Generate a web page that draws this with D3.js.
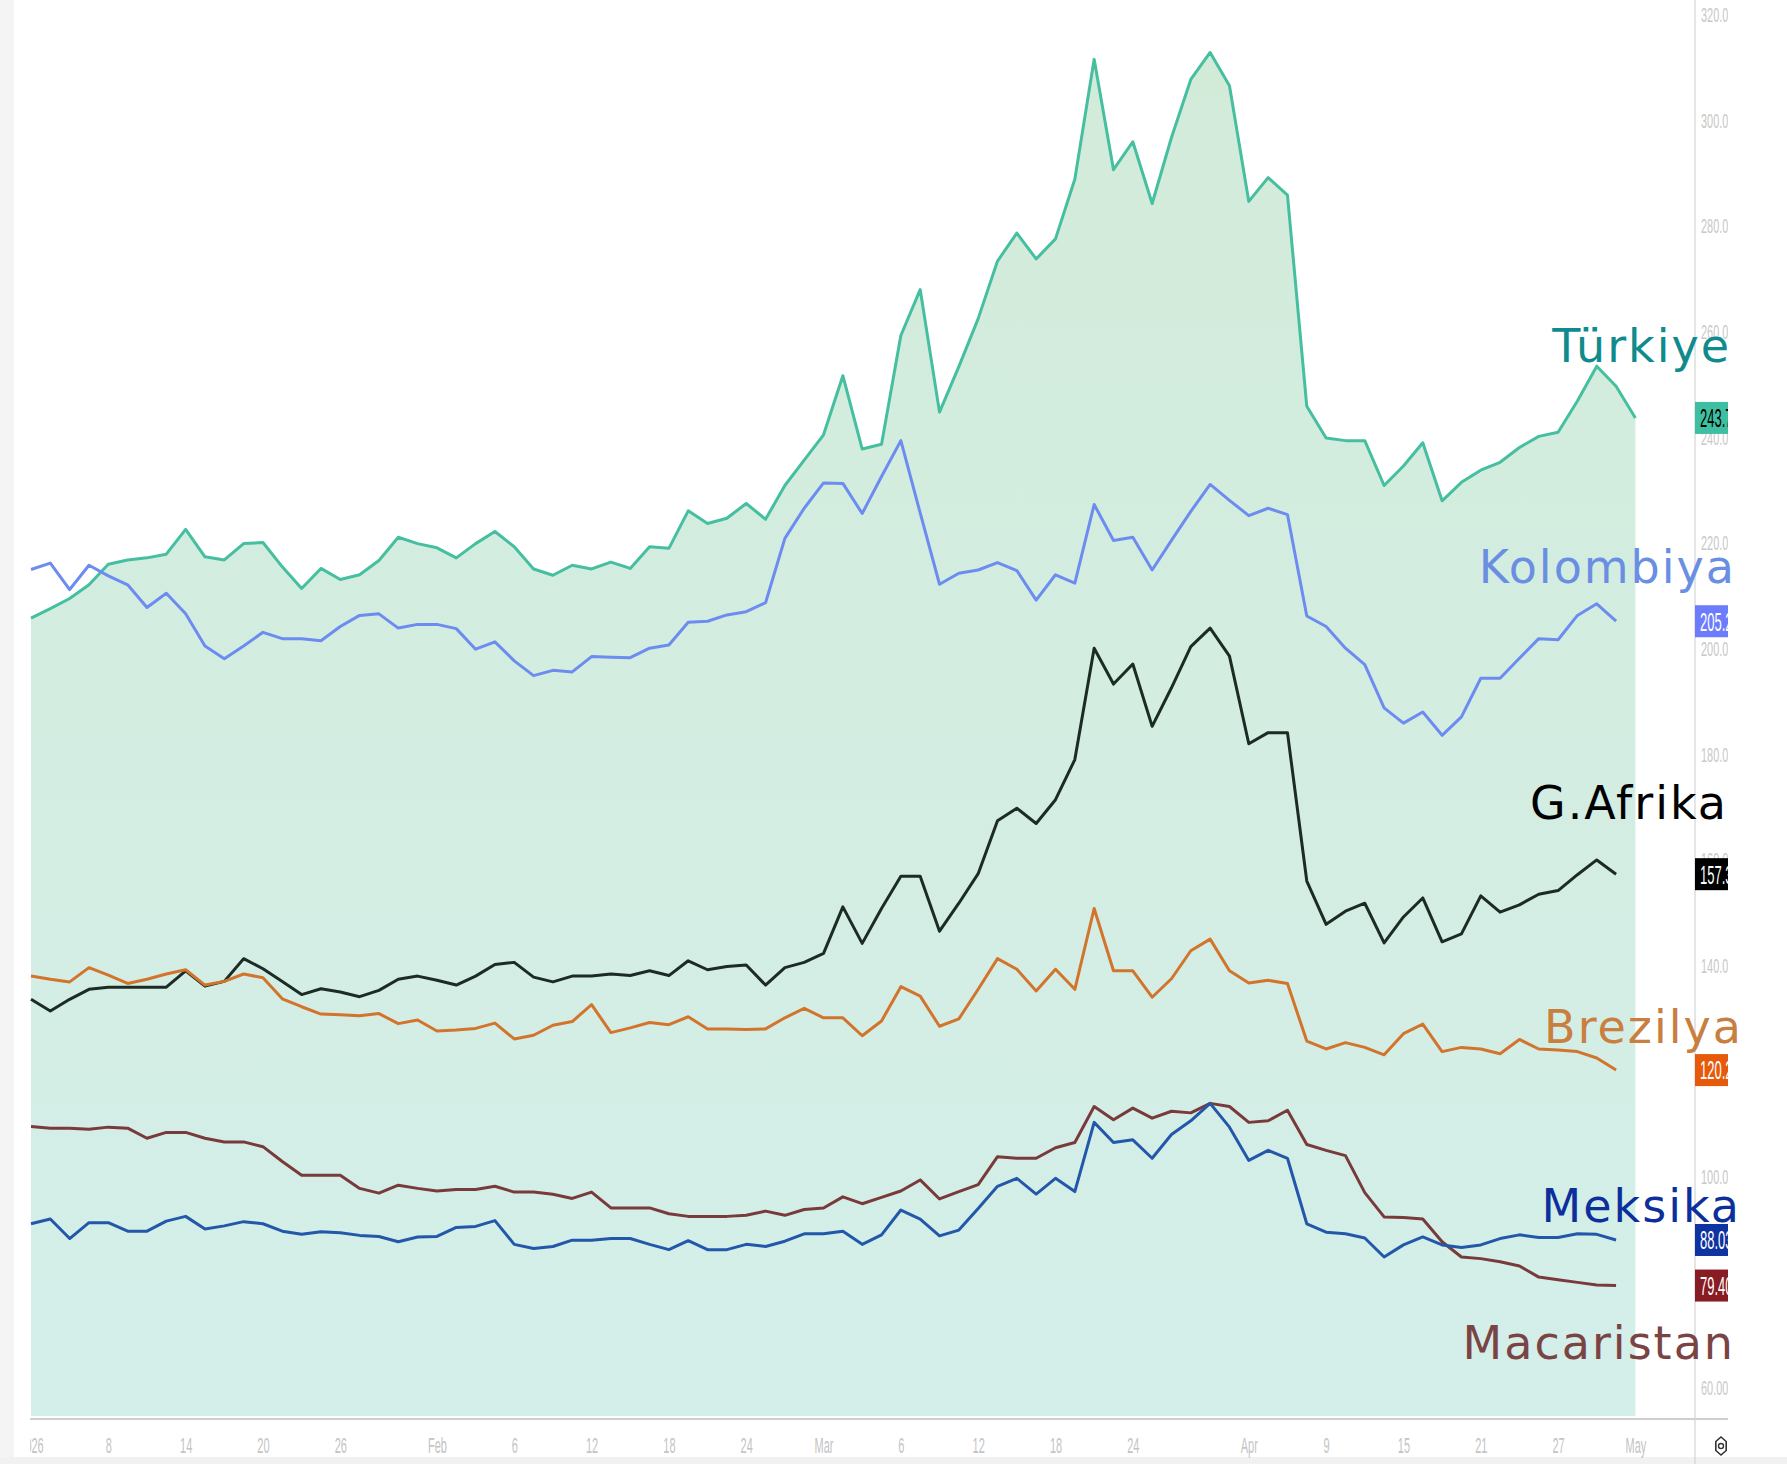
<!DOCTYPE html>
<html>
<head>
<meta charset="utf-8">
<script src="https://cdn.jsdelivr.net/npm/d3@7/dist/d3.min.js"></script>
<style>
  body { margin: 0; background: #fff; }
  svg { display: block; }
</style>
</head>
<body>
<div id="chart"></div>
<script>
// bar index ticks on the time axis (TradingView style labels)
const dateLabels = ["2026", "8", "14", "20", "26", "Feb", "6", "12", "18", "24", "Mar", "6", "12", "18", "24", "Apr", "9", "15", "21", "27", "May"];
const dateTickIndex = [0, 4, 8, 12, 16, 21, 25, 29, 33, 37, 41, 45, 49, 53, 57, 63, 67, 71, 75, 79, 83];
const priceTicks = [60, 80, 100, 120, 140, 160, 180, 200, 220, 240, 260, 280, 300, 320];

// 5Y CDS, one value per trading day
const turkiye = [205.8, 207.6, 209.5, 212.1, 216.0, 216.8, 217.2, 217.9, 222.6, 217.4,
  216.8, 219.9, 220.1, 215.5, 211.4, 215.2, 213.1, 214.0, 216.7, 221.1,
  219.9, 219.1, 217.2, 219.9, 222.2, 219.3, 215.1, 213.9, 215.8, 215.1,
  216.4, 215.2, 219.3, 219.0, 226.1, 223.7, 224.7, 227.5, 224.5, 230.9,
  235.7, 240.5, 251.7, 237.8, 238.7, 259.3, 268.0, 244.8, 253.4, 262.5,
  273.4, 278.7, 273.8, 277.6, 288.9, 311.6, 290.7, 296.0, 284.3, 296.8,
  307.8, 312.9, 306.6, 284.7, 289.2, 285.9, 245.9, 239.9, 239.4, 239.4,
  230.9, 234.6, 239.0, 228.0, 231.5, 233.8, 235.3, 238.1, 240.2, 241.0,
  246.9, 253.5, 249.7, 243.7];
const kolombiya = [215.0, 216.2, 211.2, 215.8, 213.8, 212.1, 207.8, 210.5, 206.6, 200.5,
  198.1, 200.5, 203.1, 201.9, 201.9, 201.5, 204.2, 206.3, 206.6, 203.9,
  204.6, 204.6, 203.8, 199.9, 201.3, 197.7, 194.9, 195.9, 195.6, 198.5,
  198.4, 198.3, 200.1, 200.7, 205.0, 205.2, 206.4, 207.0, 208.7, 220.9,
  226.6, 231.4, 231.3, 225.6, 232.6, 239.4, 225.7, 212.2, 214.3, 214.9,
  216.3, 214.8, 209.2, 214.0, 212.4, 227.3, 220.5, 221.1, 214.9, 220.5,
  226.0, 231.1, 228.1, 225.2, 226.6, 225.4, 206.2, 204.2, 200.1, 197.0,
  188.8, 185.9, 188.0, 183.6, 187.1, 194.4, 194.4, 198.2, 201.9, 201.7,
  206.3, 208.5, 205.2];
const gAfrika = [133.6, 131.4, 133.6, 135.5, 135.9, 135.9, 135.9, 135.9, 139.0, 136.1,
  137.0, 141.3, 139.4, 137.0, 134.5, 135.6, 135.0, 134.1, 135.3, 137.4,
  138.0, 137.2, 136.3, 138.0, 140.2, 140.6, 137.8, 136.9, 138.0, 138.0,
  138.4, 138.1, 139.0, 138.1, 140.9, 139.2, 139.8, 140.1, 136.3, 139.6,
  140.6, 142.3, 151.1, 144.2, 150.8, 156.9, 156.9, 146.5, 151.8, 157.4,
  167.4, 169.8, 166.9, 171.4, 179.0, 200.1, 193.3, 197.1, 185.3, 192.6,
  200.4, 203.9, 198.6, 182.0, 184.1, 184.1, 156.0, 147.8, 150.3, 151.8,
  144.3, 149.2, 152.8, 144.5, 146.0, 153.2, 150.1, 151.5, 153.5, 154.2,
  157.2, 160.0, 157.3];
const brezilya = [138.0, 137.4, 136.9, 139.6, 138.2, 136.6, 137.4, 138.4, 139.2, 136.3,
  137.0, 138.4, 137.7, 133.7, 132.2, 130.8, 130.7, 130.5, 130.9, 129.0,
  129.7, 127.6, 127.8, 128.1, 129.1, 126.1, 126.8, 128.7, 129.4, 132.6,
  127.3, 128.2, 129.2, 128.8, 130.3, 128.0, 128.0, 127.9, 128.0, 130.1,
  131.9, 130.1, 130.1, 126.7, 129.5, 136.0, 134.2, 128.5, 129.9, 135.5,
  141.3, 139.3, 135.2, 139.3, 135.5, 150.8, 139.0, 139.0, 134.0, 137.5,
  142.8, 145.0, 139.0, 136.7, 137.2, 136.6, 125.7, 124.2, 125.4, 124.5,
  123.1, 127.1, 128.9, 123.7, 124.5, 124.2, 123.3, 126.0, 124.2, 124.0,
  123.7, 122.5, 120.2];
const macaristan = [109.5, 109.2, 109.2, 109.0, 109.4, 109.2, 107.3, 108.4, 108.4, 107.3,
  106.6, 106.6, 105.7, 102.9, 100.3, 100.3, 100.3, 97.8, 96.9, 98.4,
  97.8, 97.3, 97.6, 97.6, 98.2, 97.1, 97.1, 96.7, 95.9, 97.1,
  94.1, 94.1, 94.1, 93.0, 92.5, 92.5, 92.5, 92.7, 93.5, 92.7,
  93.8, 94.1, 96.2, 94.9, 96.1, 97.3, 99.4, 95.8, 97.2, 98.5,
  103.8, 103.5, 103.5, 105.5, 106.5, 113.3, 110.8, 113.0, 111.1, 112.4,
  112.1, 113.9, 113.3, 110.3, 110.6, 112.6, 106.1, 105.0, 104.0, 97.0,
  92.4, 92.3, 92.0, 87.7, 84.8, 84.5, 83.9, 83.1, 81.0, 80.5,
  80.0, 79.5, 79.4];
const meksika = [91.1, 92.0, 88.3, 91.3, 91.3, 89.7, 89.7, 91.6, 92.5, 90.1,
  90.7, 91.5, 91.1, 89.7, 89.1, 89.6, 89.4, 88.9, 88.7, 87.7,
  88.6, 88.7, 90.4, 90.6, 91.7, 87.2, 86.4, 86.8, 88.0, 88.0,
  88.3, 88.3, 87.2, 86.2, 87.9, 86.2, 86.2, 87.2, 86.8, 87.8,
  89.2, 89.2, 89.7, 87.2, 89.0, 93.7, 92.0, 88.8, 89.9, 94.0,
  98.2, 99.7, 96.7, 99.7, 97.2, 110.3, 106.5, 107.0, 103.5, 108.0,
  110.6, 113.9, 109.4, 103.1, 105.0, 103.5, 91.1, 89.5, 89.2, 88.4,
  84.8, 87.1, 88.6, 87.1, 86.6, 87.1, 88.3, 89.0, 88.5, 88.5,
  89.2, 89.1, 88.03];
const lastLabels = ["243.7", "205.2", "157.3", "120.2", "88.03", "79.40"];
const seriesNames = ["Türkiye", "Kolombiya", "G.Afrika", "Brezilya", "Meksika", "Macaristan"];

// styles and layout
const W = 1787, H = 1464;
const styles = {
    "Türkiye":    { data: turkiye,    line: "#45bf9f", text: "#0f8b8d", badge: "#3fbfa1", badgeText: "#000" },
    "Kolombiya":  { data: kolombiya,  line: "#6c8cf0", text: "#6a8fe2", badge: "#6b7dfc", badgeText: "#fff" },
    "G.Afrika":   { data: gAfrika,    line: "#1c2b23", text: "#000000", badge: "#000000", badgeText: "#fff" },
    "Brezilya":   { data: brezilya,   line: "#d2742c", text: "#c87f40", badge: "#e65a0c", badgeText: "#fff" },
    "Meksika":    { data: meksika,    line: "#2357a9", text: "#0d2f9c", badge: "#0f33a0", badgeText: "#fff" },
    "Macaristan": { data: macaristan, line: "#783a3a", text: "#7b4444", badge: "#891b23", badgeText: "#fff" }
};
const labelPos = {
    "Türkiye": [1731, 362], "Kolombiya": [1736, 583], "G.Afrika": [1728, 819],
    "Brezilya": [1743, 1043], "Meksika": [1741, 1222], "Macaristan": [1735, 1359]
};

const x = d3.scaleLinear().domain([0, 83]).range([31, 1635.4]);
const y = d3.scaleLinear().domain([60, 320]).range([1388, 15]);
const plotBottom = 1416;
const axisX = 1695;

const svg = d3.select('#chart').append('svg')
    .attr('width', W).attr('height', H);

const defs = svg.append('defs');
const grad = defs.append('linearGradient')
    .attr('id', 'tkFill').attr('gradientUnits', 'userSpaceOnUse')
    .attr('x1', 0).attr('y1', 50).attr('x2', 0).attr('y2', plotBottom);
grad.append('stop').attr('offset', '0%').attr('stop-color', '#d2ebd9');
grad.append('stop').attr('offset', '100%').attr('stop-color', '#d4efea');

defs.append('clipPath').attr('id', 'dateClip')
    .append('rect').attr('x', 30).attr('y', 1420).attr('width', 1660).attr('height', 40);
defs.append('clipPath').attr('id', 'scaleClip')
    .append('rect').attr('x', axisX).attr('y', 0).attr('width', 33).attr('height', H);

// page edges
svg.append('rect').attr('x', 0).attr('y', 0).attr('width', 14).attr('height', H).attr('fill', '#f4f4f4');
svg.append('rect').attr('x', 0).attr('y', 1457).attr('width', W).attr('height', 7).attr('fill', '#f1f1f1');

// Türkiye area
const area = d3.area()
    .x((d, i) => x(i))
    .y0(plotBottom)
    .y1(d => y(d));
svg.append('path')
    .datum(turkiye)
    .attr('d', area)
    .attr('fill', 'url(#tkFill)');

// lines
const line = d3.line()
    .x((d, i) => x(i))
    .y(d => y(d));
["Türkiye", "Kolombiya", "G.Afrika", "Brezilya", "Macaristan", "Meksika"].forEach(name => {
    svg.append('path')
        .datum(styles[name].data)
        .attr('d', line)
        .attr('fill', 'none')
        .attr('stroke', styles[name].line)
        .attr('stroke-width', 3)
        .attr('stroke-linejoin', 'round');
});

// bottom rule and price scale rule
svg.append('line')
    .attr('x1', 30).attr('x2', 1728)
    .attr('y1', plotBottom + 3).attr('y2', plotBottom + 3)
    .attr('stroke', '#cfcfcf').attr('stroke-width', 2);
svg.append('line')
    .attr('x1', axisX).attr('x2', axisX)
    .attr('y1', 0).attr('y2', H)
    .attr('stroke', '#d4d4d4').attr('stroke-width', 1.2);

// date axis (clip on an untransformed wrapper)
const xAxis = svg.append('g')
    .attr('clip-path', 'url(#dateClip)')
    .append('g')
    .attr('transform', `translate(0,1437)`)
    .call(d3.axisBottom(x)
        .tickValues(dateTickIndex)
        .tickFormat((d, i) => dateLabels[i])
        .tickSize(0).tickPadding(0));
xAxis.select('.domain').remove();
xAxis.selectAll('text')
    .attr('fill', '#c4c4c4')
    .attr('font-family', 'Liberation Sans, Arial, sans-serif')
    .attr('font-size', 22)
    .attr('transform', 'scale(0.5,1)');

// price axis
const yAxis = svg.append('g')
    .attr('clip-path', 'url(#scaleClip)')
    .append('g')
    .attr('transform', `translate(${axisX},0)`)
    .call(d3.axisRight(y)
        .tickValues(priceTicks)
        .tickFormat(d => d >= 100 ? d.toFixed(1) : d.toFixed(2))
        .tickSize(0).tickPadding(0));
yAxis.select('.domain').remove();
yAxis.selectAll('text')
    .attr('fill', '#c8c8c8')
    .attr('font-family', 'Liberation Sans, Arial, sans-serif')
    .attr('font-size', 21)
    .attr('x', 0)
    .attr('transform', 'translate(6,0) scale(0.52,1)');

// last value badges
const badges = svg.append('g').attr('clip-path', 'url(#scaleClip)');
seriesNames.forEach((name, k) => {
    const s = styles[name];
    const v = s.data[s.data.length - 1];
    const g = badges.append('g').attr('transform', `translate(${axisX},${y(v)})`);
    g.append('rect')
        .attr('x', 0).attr('y', -16)
        .attr('width', 40).attr('height', 32)
        .attr('fill', s.badge);
    g.append('text')
        .attr('transform', 'translate(5,0) scale(0.5,1)')
        .attr('dy', '0.36em')
        .attr('fill', s.badgeText)
        .attr('font-family', 'Liberation Sans, Arial, sans-serif')
        .attr('font-size', 26)
        .text(lastLabels[k]);
});

// series names
seriesNames.forEach(name => {
    const [lx, ly] = labelPos[name];
    svg.append('text')
        .attr('x', lx).attr('y', ly)
        .attr('text-anchor', 'end')
        .attr('fill', styles[name].text)
        .attr('font-family', 'DejaVu Sans, Verdana, sans-serif')
        .attr('font-size', 46)
        .attr('letter-spacing', 2)
        .text(name);
});

// chart settings icon
const icon = svg.append('g').attr('transform', 'translate(1721,1446)');
icon.append('path')
    .attr('d', d3.line()(d3.range(6).map(i => {
        const a = Math.PI / 3 * i + Math.PI / 2;
        return [Math.cos(a) * 6, Math.sin(a) * 9];
    })) + 'Z')
    .attr('fill', 'none').attr('stroke', '#333').attr('stroke-width', 1.6);
icon.append('circle').attr('r', 2.5).attr('fill', 'none').attr('stroke', '#333').attr('stroke-width', 1.4);
</script>
</body>
</html>
